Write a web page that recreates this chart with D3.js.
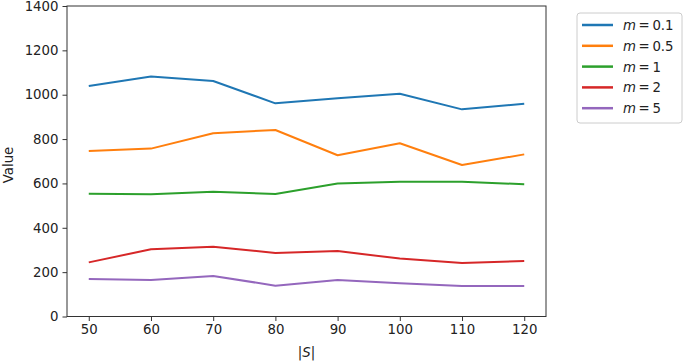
<!DOCTYPE html>
<html>
<head>
<meta charset="utf-8">
<script src="https://cdn.jsdelivr.net/npm/d3@7"></script>
<style>
  body { margin: 0; background: #fff; }
  text { font-family: "DejaVu Sans", sans-serif; }
</style>
</head>
<body>
<script>
// |S| values on the x axis
var sizes = [50, 60, 70, 80, 90, 100, 110, 120];
var mLabels = ["0.1", "0.5", "1", "2", "5"];
var m01 = [1039, 1082, 1062, 961, 984, 1004, 934, 959];
var m05 = [746, 757, 826, 841, 727, 781, 683, 731];
var m1  = [554, 551, 563, 552, 600, 608, 608, 596];
var m2  = [244, 303, 315, 286, 295, 261, 241, 250];
var m5  = [169, 165, 183, 139, 165, 150, 137, 137];
var yTicks = [0, 200, 400, 600, 800, 1000, 1200, 1400];
var colors = ["#1f77b4", "#ff7f0e", "#2ca02c", "#d62728", "#9467bd"];

var series = [m01, m05, m1, m2, m5];

var W = 685, H = 362;
var pLeft = 67, pRight = 546, pTop = 6, pBottom = 316.5;

var svg = d3.select("body").append("svg")
  .attr("width", W).attr("height", H);

var x = d3.scaleLinear().domain([46.5, 123.5]).range([pLeft, pRight]);
var y = d3.scaleLinear().domain([0, 1400]).range([pBottom, pTop]);

// lines
var line = d3.line()
  .x(function(d, i) { return x(sizes[i]); })
  .y(function(d) { return y(d); });

svg.selectAll("path.series")
  .data(series)
  .enter()
  .append("path")
  .attr("class", "series")
  .attr("fill", "none")
  .attr("stroke", function(d, i) { return colors[i]; })
  .attr("stroke-width", 2)
  .attr("stroke-linejoin", "round")
  .attr("d", line);

// axes
var xAxis = svg.append("g")
  .attr("transform", "translate(0," + pBottom + ")")
  .call(d3.axisBottom(x).tickValues(sizes).tickSize(4.5).tickPadding(4));
var yAxis = svg.append("g")
  .attr("transform", "translate(" + pLeft + ",0)")
  .call(d3.axisLeft(y).tickValues(yTicks).tickFormat(d3.format("d")).tickSize(4.5).tickPadding(4));

[xAxis, yAxis].forEach(function(g) {
  g.select(".domain").remove();
  g.selectAll("line").attr("stroke", "#333").attr("stroke-width", 1);
  g.selectAll("text").attr("font-size", 13.3).attr("fill", "#222")
    .attr("font-family", "DejaVu Sans");
});

// frame
svg.append("rect")
  .attr("x", pLeft).attr("y", pTop)
  .attr("width", pRight - pLeft).attr("height", pBottom - pTop)
  .attr("fill", "none").attr("stroke", "#333").attr("stroke-width", 1);

// axis labels
svg.append("text")
  .attr("x", (pLeft + pRight) / 2).attr("y", 357)
  .attr("text-anchor", "middle").attr("font-size", 13.3).attr("fill", "#222")
  .html('|<tspan font-style="italic">S</tspan>|');

svg.append("text")
  .attr("transform", "translate(13,165) rotate(-90)")
  .attr("text-anchor", "middle").attr("font-size", 13.3).attr("fill", "#222")
  .text("Value");

// legend
var legend = svg.append("g").attr("transform", "translate(577,13)");
legend.append("rect")
  .attr("width", 105).attr("height", 110)
  .attr("rx", 3).attr("fill", "#fff")
  .attr("stroke", "#ccc").attr("stroke-width", 1);

var items = legend.selectAll("g.item")
  .data(mLabels)
  .enter()
  .append("g")
  .attr("class", "item")
  .attr("transform", function(d, i) { return "translate(0," + (12 + i * 20.8) + ")"; });

items.append("line")
  .attr("x1", 5).attr("x2", 36)
  .attr("stroke", function(d, i) { return colors[i]; })
  .attr("stroke-width", 2.5);

items.append("text")
  .attr("x", 46).attr("y", 5)
  .attr("font-size", 13.3).attr("fill", "#222")
  .html(function(d) {
    return '<tspan font-style="italic">m</tspan>\u2009=\u2009' + d;
  });
</script>
</body>
</html>
